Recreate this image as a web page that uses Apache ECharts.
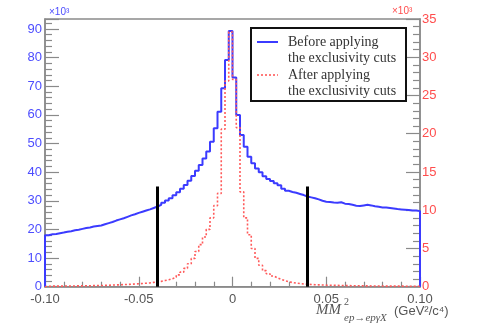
<!DOCTYPE html>
<html>
<head>
<meta charset="utf-8">
<script src="https://cdn.jsdelivr.net/npm/echarts@6/dist/echarts.min.js"></script>
<style>html,body{margin:0;padding:0;background:#fff}#c{width:479px;height:325px}</style>
</head>
<body>
<div id="c"></div>
<script>
// Histogram binning (100 bins of 0.002 from -0.10 to 0.10)
var binLow = -0.1;
var binWidth = 0.002;
// Tick labels
var xTicks = [-0.10, -0.05, 0, 0.05, 0.10];
var leftTicks = [0, 10, 20, 30, 40, 50, 60, 70, 80, 90];
var rightTicks = [0, 5, 10, 15, 20, 25, 30, 35];
// Counts (x10^3) before the exclusivity cuts (left axis)
var beforeCuts = [
  18.0, 18.3, 18.4, 18.7, 18.9, 19.2, 19.4, 19.7, 19.9, 20.2,
  20.5, 20.7, 21.0, 21.2, 21.4, 21.8, 22.2, 22.6, 23.1, 23.5,
  23.9, 24.4, 24.9, 25.3, 25.8, 26.2, 26.6, 27.0, 27.5, 28.0,
  28.6, 29.3, 30.1, 30.9, 31.9, 33.0, 34.2, 35.5, 37.0, 38.7,
  40.5, 42.5, 44.8, 47.2, 50.6, 55.3, 61.1, 69.3, 79.2, 89.3,
  73.1, 60.0, 53.0, 48.9, 45.4, 43.1, 41.3, 40.0, 38.6, 37.6,
  36.9, 36.1, 35.4, 34.2, 33.5, 33.1, 32.8, 32.4, 32.0, 31.5,
  31.2, 30.9, 30.5, 30.0, 29.7, 29.6, 29.4, 29.3, 29.5, 29.0,
  28.9, 28.6, 28.3, 28.2, 28.4, 28.6, 28.4, 28.1, 27.9, 27.7,
  27.7, 27.5, 27.3, 27.1, 27.0, 26.9, 26.8, 26.6, 26.6, 26.4
];
// Counts (x10^3) after the exclusivity cuts (right axis)
var afterCuts = [
  0.06, 0.07, 0.07, 0.08, 0.08, 0.09, 0.09, 0.10, 0.11, 0.11,
  0.12, 0.13, 0.14, 0.15, 0.16, 0.17, 0.19, 0.21, 0.23, 0.25,
  0.27, 0.30, 0.32, 0.35, 0.38, 0.42, 0.46, 0.50, 0.56, 0.62,
  0.70, 0.80, 0.90, 1.05, 1.25, 1.55, 1.90, 2.40, 3.00, 3.70,
  4.60, 5.50, 6.50, 7.50, 9.00, 10.6, 12.2, 20.6, 26.9, 33.3,
  27.1, 20.8, 12.4, 9.00, 6.80, 5.00, 3.70, 2.80, 2.10, 1.70,
  1.40, 1.15, 0.95, 0.80, 0.65, 0.55, 0.47, 0.41, 0.36, 0.32,
  0.29, 0.26, 0.24, 0.22, 0.20, 0.19, 0.18, 0.17, 0.16, 0.15,
  0.14, 0.13, 0.12, 0.12, 0.11, 0.11, 0.10, 0.10, 0.09, 0.09,
  0.08, 0.08, 0.08, 0.07, 0.07, 0.07, 0.06, 0.06, 0.06, 0.05
];
// Exclusivity cut positions and drawn height (left-axis units)
var cutPositions = [-0.04, 0.04];
var cutHeight = [35, 35];

function histPoints(vals) {
  var pts = [[binLow, 0]];
  for (var i = 0; i < vals.length; i++) {
    pts.push([+(binLow + i * binWidth).toFixed(4), vals[i]]);
  }
  var hi = +(binLow + vals.length * binWidth).toFixed(4);
  pts.push([hi, vals[vals.length - 1]]);
  pts.push([hi, 0]);
  return pts;
}
function inList(list, v) {
  for (var i = 0; i < list.length; i++) if (Math.abs(list[i] - v) < 1e-6) return true;
  return false;
}

var chart = echarts.init(document.getElementById('c'), null, {renderer: 'canvas'});
var axisGray = '#8a8a8a';
var blue = '#3b3bff';
var red = '#ff5a5a';
var option = {
  animation: false,
  grid: {left: 45, right: 59, top: 19, bottom: 38.3, show: true, borderColor: axisGray, borderWidth: 1.5, containLabel: false},
  xAxis: {
    type: 'value', min: -0.1, max: 0.1, interval: 0.05,
    axisLine: {show: true, onZero: false, lineStyle: {color: axisGray, width: 1.5}},
    axisTick: {show: true, inside: true, length: 10, lineStyle: {color: axisGray, width: 1.2}},
    minorTick: {show: true, splitNumber: 5, length: 5, lineStyle: {color: axisGray, width: 1.2}},
    splitLine: {show: false},
    axisLabel: {color: '#555', fontSize: 13, fontFamily: 'Liberation Sans', margin: 6,
      formatter: function (v) { if (!inList(xTicks, v)) return ''; return v === 0 ? '0' : v.toFixed(2); }}
  },
  yAxis: [{
    type: 'value', position: 'left', min: 0, max: 93.5, interval: 10,
    axisLine: {show: true, onZero: false, lineStyle: {color: axisGray, width: 1.5}},
    axisTick: {show: true, inside: true, length: 14, lineStyle: {color: axisGray, width: 1.2}},
    minorTick: {show: true, splitNumber: 5, length: 7, lineStyle: {color: axisGray, width: 1.2}},
    splitLine: {show: false},
    axisLabel: {color: '#4d4dff', fontSize: 13, fontFamily: 'Liberation Sans', margin: 3,
      formatter: function (v) { return inList(leftTicks, v) ? String(v) : ''; }}
  }, {
    type: 'value', position: 'right', min: 0, max: 35, interval: 5,
    axisLine: {show: true, onZero: false, lineStyle: {color: axisGray, width: 1.5}},
    axisTick: {show: true, inside: true, length: 14, lineStyle: {color: axisGray, width: 1.2}},
    minorTick: {show: true, splitNumber: 5, length: 7, lineStyle: {color: axisGray, width: 1.2}},
    splitLine: {show: false},
    axisLabel: {color: '#ff4d4d', fontSize: 13, fontFamily: 'Liberation Sans', margin: 2,
      formatter: function (v) { return inList(rightTicks, v) ? String(v) : ''; }}
  }],
  series: [{
    name: 'Before applying the exclusivity cuts', type: 'line', step: 'end', yAxisIndex: 0,
    data: histPoints(beforeCuts), showSymbol: false, symbol: 'none',
    lineStyle: {color: blue, width: 2}, z: 2,
    markLine: {
      silent: true, symbol: 'none', label: {show: false},
      lineStyle: {color: '#000', width: 3, type: 'solid'},
      data: cutPositions.map(function (c, i) { return [{coord: [c, 0]}, {coord: [c, cutHeight[i]]}]; })
    }
  }, {
    name: 'After applying the exclusivity cuts', type: 'line', step: 'end', yAxisIndex: 1,
    data: histPoints(afterCuts), showSymbol: false, symbol: 'none',
    lineStyle: {color: red, width: 1.6, type: [2, 2]}, z: 3
  }],
  graphic: [
    {type: 'text', left: 49, top: 7, style: {text: '×10³', fill: '#4d4dff', font: '10px "Liberation Sans"'}},
    {type: 'text', left: 392, top: 6, style: {text: '×10³', fill: '#ff4d4d', font: '10px "Liberation Sans"'}},
    {type: 'rect', shape: {x: 251, y: 28, width: 155, height: 73}, style: {fill: '#fff', stroke: '#111', lineWidth: 2}, z: 10},
    {type: 'line', shape: {x1: 257, y1: 42, x2: 278, y2: 42}, style: {stroke: blue, lineWidth: 2}, z: 11},
    {type: 'line', shape: {x1: 257, y1: 75, x2: 278, y2: 75}, style: {stroke: red, lineWidth: 1.6, lineDash: [2, 2]}, z: 11},
    {type: 'text', x: 288, y: 42, style: {text: 'Before applying', fill: '#333', font: '14px "Liberation Serif"', verticalAlign: 'middle'}, z: 11},
    {type: 'text', x: 288, y: 58.5, style: {text: 'the exclusivity cuts', fill: '#333', font: '14px "Liberation Serif"', verticalAlign: 'middle'}, z: 11},
    {type: 'text', x: 288, y: 75, style: {text: 'After applying', fill: '#333', font: '14px "Liberation Serif"', verticalAlign: 'middle'}, z: 11},
    {type: 'text', x: 288, y: 91.5, style: {text: 'the exclusivity cuts', fill: '#333', font: '14px "Liberation Serif"', verticalAlign: 'middle'}, z: 11},
    {type: 'text', x: 316, y: 310, style: {text: 'MM', fill: '#555', font: 'italic 15px "Liberation Serif"', verticalAlign: 'middle'}},
    {type: 'text', x: 344, y: 302, style: {text: '2', fill: '#555', font: '10px "Liberation Serif"', verticalAlign: 'middle'}},
    {type: 'text', x: 344, y: 318, style: {text: 'ep→epγX', fill: '#555', font: 'italic 11px "Liberation Serif"', verticalAlign: 'middle'}},
    {type: 'text', x: 394, y: 311, style: {text: '(GeV²/c⁴)', fill: '#555', font: '13px "Liberation Sans"', verticalAlign: 'middle'}}
  ]
};
chart.setOption(option);
</script>
</body>
</html>
